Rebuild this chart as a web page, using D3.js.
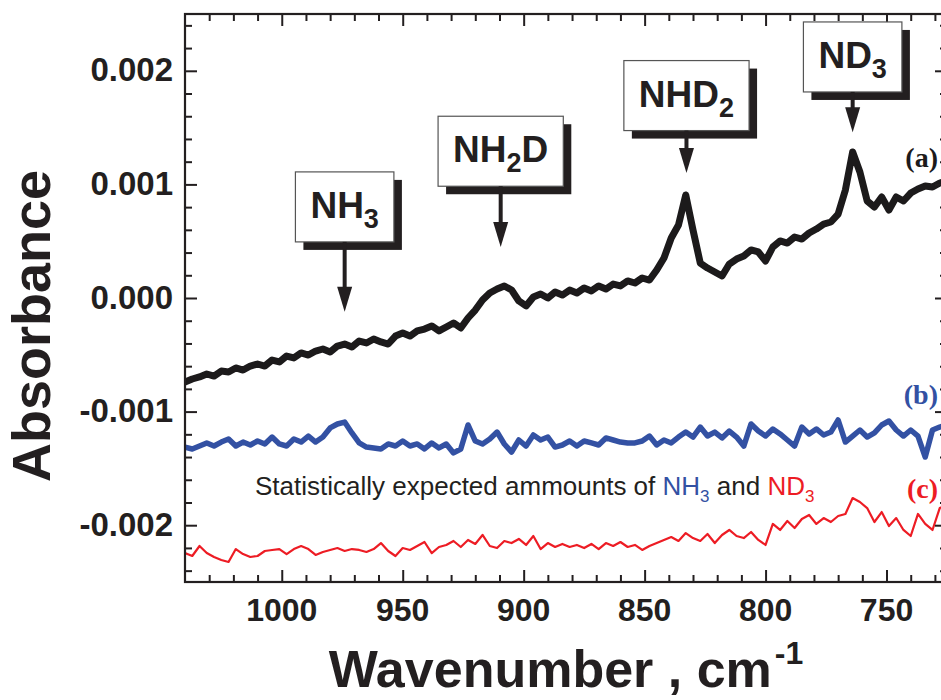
<!DOCTYPE html>
<html><head><meta charset="utf-8">
<script src="https://cdn.jsdelivr.net/npm/d3@7"></script>
<style>body{margin:0;background:#fff}svg{display:block}</style>
</head><body>
<svg id="chart" width="941" height="700"></svg>
<script>
// ---------- DATA ----------
const wavenumbers = d3.range(1040, 724, -3); // sampling grid, cm-1
const seriesA = [-0.000739,-0.000713,-0.000695,-0.000669,-0.000687,-0.000643,-0.000651,-0.000616,-0.000634,-0.000599,
 -0.000581,-0.000599,-0.000546,-0.000563,-0.000511,-0.000528,-0.000484,-0.000502,-0.000467,-0.000449,
 -0.000475,-0.000423,-0.000405,-0.000431,-0.000379,-0.000396,-0.000361,-0.000387,-0.000405,-0.000335,
 -0.000308,-0.000335,-0.000290,-0.000273,-0.000246,-0.000290,-0.000255,-0.000220,-0.000264,-0.000176,
 -0.000106,-0.000018,0.000044,0.000079,0.000106,0.000070,-0.000026,-0.000070,0.000009,0.000035,
 0.000000,0.000053,0.000026,0.000070,0.000044,0.000088,0.000062,0.000106,0.000079,0.000123,
 0.000106,0.000150,0.000132,0.000176,0.000158,0.000246,0.000352,0.000528,0.000643,0.000907,
 0.000599,0.000308,0.000264,0.000229,0.000194,0.000299,0.000343,0.000370,0.000423,0.000405,
 0.000326,0.000449,0.000502,0.000484,0.000537,0.000519,0.000572,0.000607,0.000651,0.000669,
 0.000739,0.000951,0.001285,0.001109,0.000854,0.000801,0.000889,0.000775,0.000889,0.000854,
 0.000924,0.000960,0.000986,0.000977,0.001012,0.001030];
const seriesB = [-0.001312,-0.001329,-0.001303,-0.001276,-0.001303,-0.001268,-0.001241,-0.001303,-0.001268,-0.001294,
 -0.001259,-0.001285,-0.001224,-0.001285,-0.001303,-0.001241,-0.001268,-0.001215,-0.001268,-0.001224,
 -0.001144,-0.001109,-0.001092,-0.001188,-0.001276,-0.001312,-0.001320,-0.001329,-0.001285,-0.001303,
 -0.001259,-0.001303,-0.001285,-0.001329,-0.001276,-0.001320,-0.001285,-0.001364,-0.001329,-0.001118,
 -0.001259,-0.001285,-0.001241,-0.001180,-0.001285,-0.001356,-0.001250,-0.001303,-0.001206,-0.001250,
 -0.001224,-0.001312,-0.001294,-0.001259,-0.001303,-0.001259,-0.001276,-0.001294,-0.001232,-0.001250,
 -0.001268,-0.001276,-0.001276,-0.001259,-0.001215,-0.001294,-0.001250,-0.001276,-0.001224,-0.001180,
 -0.001224,-0.001136,-0.001215,-0.001180,-0.001232,-0.001171,-0.001224,-0.001303,-0.001109,-0.001171,
 -0.001215,-0.001153,-0.001197,-0.001250,-0.001303,-0.001136,-0.001197,-0.001153,-0.001206,-0.001180,
 -0.001074,-0.001268,-0.001215,-0.001162,-0.001224,-0.001188,-0.001118,-0.001083,-0.001162,-0.001215,
 -0.001162,-0.001215,-0.001400,-0.001162,-0.001136,-0.001118];
const seriesC = [-0.002245,-0.002271,-0.002183,-0.002245,-0.002280,-0.002306,-0.002324,-0.002210,-0.002254,-0.002280,
 -0.002271,-0.002227,-0.002218,-0.002210,-0.002254,-0.002210,-0.002183,-0.002210,-0.002262,-0.002236,
 -0.002218,-0.002201,-0.002227,-0.002210,-0.002218,-0.002236,-0.002210,-0.002157,-0.002227,-0.002271,
 -0.002201,-0.002218,-0.002183,-0.002148,-0.002245,-0.002192,-0.002174,-0.002139,-0.002192,-0.002130,
 -0.002165,-0.002086,-0.002183,-0.002201,-0.002139,-0.002157,-0.002121,-0.002174,-0.002095,-0.002210,
 -0.002157,-0.002192,-0.002165,-0.002192,-0.002174,-0.002201,-0.002165,-0.002210,-0.002157,-0.002183,
 -0.002148,-0.002192,-0.002174,-0.002218,-0.002183,-0.002157,-0.002130,-0.002104,-0.002139,-0.002069,
 -0.002113,-0.002139,-0.002077,-0.002157,-0.002086,-0.002042,-0.002095,-0.002113,-0.002060,-0.002130,
 -0.002174,-0.001989,-0.002042,-0.001963,-0.002025,-0.001945,-0.001910,-0.001989,-0.001937,-0.001972,
 -0.001919,-0.001901,-0.001761,-0.001796,-0.001849,-0.001972,-0.001884,-0.002007,-0.001937,-0.002042,
 -0.002095,-0.001901,-0.001989,-0.002042,-0.001849,-0.001822];
const seriesNames = ["(a)", "(b)", "(c)"];
const seriesLabelValues = [0.00115, -0.00093, -0.00176];
const xTickValues = [1000, 950, 900, 850, 800, 750];
const xTickLabels = ["1000", "950", "900", "850", "800", "750"];
const yTickValues = [0.002, 0.001, 0, -0.001, -0.002];
const yTickLabels = ["0.002", "0.001", "0.000", "-0.001", "-0.002"];
const annMain = ["NH", "NH", "NHD", "ND"];
const annSub = ["3", "2", "2", "3"];
const annTail = ["", "D", "", ""];
const annWavenumbers = [974, 909.5, 832.7, 764];
const annBoxTops = [0.00111, 0.00160, 0.00209, 0.00243];
const annArrowTips = [-0.00012, 0.00045, 0.00110, 0.00146];

// ---------- LAYOUT ----------
const X0 = 185, X1 = 947, Y0 = 14, Y1 = 582;
const INK = "#231f20";
const colors = ["#1c1a1b", "#3351a3", "#ed1c24"];
const widths = [7, 5.5, 2.2];
const svg = d3.select("#chart");
const x = d3.scaleLinear().domain([1040, 725]).range([X0, X1]);
const y = d3.scaleLinear().domain([-0.0025, 0.0025]).range([Y1, Y0]);

svg.append("defs").append("clipPath").attr("id", "clip")
  .append("rect").attr("x", X0).attr("y", Y0).attr("width", X1 - X0).attr("height", Y1 - Y0);

// curves
const line = d3.line().x((d, i) => x(wavenumbers[i])).y(d => y(d));
[seriesA, seriesB, seriesC].forEach((s, k) => {
  svg.append("path").datum(s).attr("clip-path", "url(#clip)")
    .attr("d", line).attr("fill", "none").attr("stroke", colors[k])
    .attr("stroke-width", widths[k]).attr("stroke-linejoin", "round").attr("stroke-linecap", "round");
});

// axes ticks
const xMinor = d3.range(1030, 725, -10).filter(v => v % 50 !== 0);
const yMinor = d3.range(-12, 13).filter(k => k % 5 !== 0).map(k => k * 0.0002);
function styleAxis(g) {
  g.select(".domain").remove();
  g.selectAll("line").attr("stroke", INK).attr("stroke-width", 2);
  g.selectAll("text").remove();
}
const axes = [
  [d3.axisBottom, x, xTickValues, xMinor, `translate(0,${Y1})`],
  [d3.axisTop, x, xTickValues, xMinor, `translate(0,${Y0})`],
  [d3.axisLeft, y, yTickValues, yMinor, `translate(${X0},0)`],
  [d3.axisRight, y, yTickValues, yMinor, `translate(${X1},0)`]
];
axes.forEach(([gen, sc, maj, min, tr]) => {
  svg.append("g").attr("transform", tr).call(gen(sc).tickValues(maj).tickSize(-12).tickFormat("")).call(styleAxis);
  svg.append("g").attr("transform", tr).call(gen(sc).tickValues(min).tickSize(-7).tickFormat("")).call(styleAxis);
});
svg.append("rect").attr("x", X0).attr("y", Y0).attr("width", X1 - X0).attr("height", Y1 - Y0)
  .attr("fill", "none").attr("stroke", INK).attr("stroke-width", 2.2);

// tick labels
const tickFont = "'Liberation Sans', Arial, sans-serif";
svg.append("g").selectAll("text").data(xTickValues).join("text")
  .attr("x", d => x(d)).attr("y", 621).attr("text-anchor", "middle")
  .attr("font-family", tickFont).attr("font-weight", "bold").attr("font-size", 32).attr("fill", INK)
  .text((d, i) => xTickLabels[i]);
svg.append("g").selectAll("text").data(yTickValues).join("text")
  .attr("x", 173).attr("y", d => y(d) + 10.5).attr("text-anchor", "end")
  .attr("font-family", tickFont).attr("font-weight", "bold").attr("font-size", 33).attr("fill", INK)
  .text((d, i) => yTickLabels[i]);

// axis titles
svg.append("text").attr("transform", "translate(50,326) rotate(-90)").attr("text-anchor", "middle")
  .attr("font-family", tickFont).attr("font-weight", "bold").attr("font-size", 54).attr("fill", INK)
  .text("Absorbance");
const xt = svg.append("text").attr("x", (X0 + X1) / 2).attr("y", 687).attr("text-anchor", "middle")
  .attr("font-family", tickFont).attr("font-weight", "bold").attr("font-size", 52).attr("fill", INK);
xt.append("tspan").text("Wavenumber , cm");
xt.append("tspan").attr("font-size", 32).attr("dy", -23).attr("dx", 3).text("-1");

// series labels
svg.append("g").selectAll("text").data(seriesNames).join("text")
  .attr("x", 938).attr("y", (d, i) => y(seriesLabelValues[i])).attr("text-anchor", "end")
  .attr("font-family", "'Liberation Serif', 'Times New Roman', serif").attr("font-weight", "bold")
  .attr("font-size", 28).attr("fill", (d, i) => colors[i]).text(d => d);

// note text
const note = svg.append("text").attr("x", 255).attr("y", 495)
  .attr("font-family", tickFont).attr("font-size", 26).attr("fill", INK);
note.append("tspan").text("Statistically expected ammounts of ");
note.append("tspan").attr("fill", colors[1]).text("NH");
note.append("tspan").attr("fill", colors[1]).attr("font-size", 17).attr("dy", 7).text("3");
note.append("tspan").attr("dy", -7).text(" and ");
note.append("tspan").attr("fill", colors[2]).text("ND");
note.append("tspan").attr("fill", colors[2]).attr("font-size", 17).attr("dy", 7).text("3");

// annotations
annMain.forEach((m, i) => {
  const cx = x(annWavenumbers[i]);
  const top = y(annBoxTops[i]);
  const tip = y(annArrowTips[i]);
  const g = svg.append("g");
  const t = g.append("text").attr("font-family", tickFont).attr("font-weight", "bold")
    .attr("font-size", 37).attr("fill", INK).attr("y", top + 46);
  t.append("tspan").text(m);
  t.append("tspan").attr("font-size", 27).attr("dy", 10).text(annSub[i]);
  if (annTail[i]) t.append("tspan").attr("dy", -10).text(annTail[i]);
  const tw = t.node().getComputedTextLength();
  const bw = tw + 30, bh = 70;
  t.attr("x", cx - tw / 2);
  g.insert("rect", "text").attr("x", cx - bw / 2 + 8).attr("y", top + 8).attr("width", bw).attr("height", bh).attr("fill", INK);
  g.insert("rect", "text").attr("x", cx - bw / 2).attr("y", top).attr("width", bw).attr("height", bh)
    .attr("fill", "#fff").attr("stroke", "#555").attr("stroke-width", 1.2);
  g.append("line").attr("x1", cx).attr("x2", cx).attr("y1", top + bh).attr("y2", tip - 20)
    .attr("stroke", INK).attr("stroke-width", 4);
  g.append("path").attr("d", `M${cx - 7.5},${tip - 25}L${cx + 7.5},${tip - 25}L${cx},${tip}Z`).attr("fill", INK);
});
</script>
</body></html>
